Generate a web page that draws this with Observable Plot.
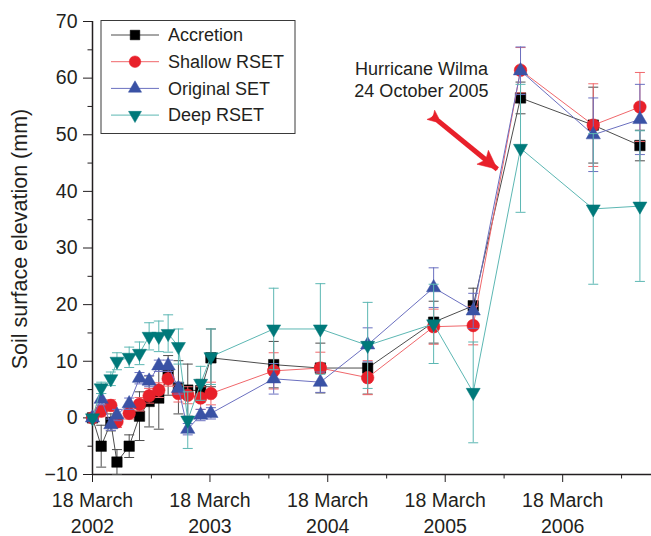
<!DOCTYPE html>
<html><head><meta charset="utf-8">
<script src="https://cdn.jsdelivr.net/npm/d3@7"></script>
<script src="https://cdn.jsdelivr.net/npm/@observablehq/plot@0.6"></script>
<style>
html,body{margin:0;padding:0;background:#fff;}
#chart{position:relative;width:651px;height:536px;}
</style></head><body><div id="chart"></div>
<script>
// ---- data ----
const dates = ["2002-03-18","2002-04-14","2002-05-14","2002-06-02","2002-07-10","2002-08-11","2002-09-10",
  "2002-10-10","2002-11-08","2002-12-10","2003-01-08","2003-02-17","2003-03-21","2003-10-02","2004-02-24",
  "2004-07-20","2005-02-10","2005-06-13","2005-11-07","2006-06-21","2006-11-13"];
const accretion    = [0,-5.0,-0.8,-7.8,-5.0,0.3,2.9,3.5,7.5,5.4,4.9,4.8,10.6,9.4,8.8,8.8,16.9,19.8,56.5,51.7,48.1];
const accretionErr = [0,3.7,1.5,2.2,2.0,4.3,4.5,5.5,3.5,4.7,4.6,2.0,5.1,4.1,4.4,4.6,3.7,3.1,2.8,6.7,2.7];
const shallow      = [0,1.2,2.2,-0.7,0.8,2.4,3.9,4.9,6.9,4.3,4.0,3.5,4.3,8.3,8.8,7.1,16.1,16.3,61.4,51.7,54.9];
const shallowErr   = [0,1.0,1.0,1.0,1.0,1.2,1.3,1.3,1.3,1.5,1.5,2.0,2.0,3.2,2.8,3.0,3.1,3.4,4.0,7.3,6.1];
const original     = [0,3.3,-1.2,0.5,2.5,7.0,6.5,9.2,9.2,5.2,-2.0,0.5,0.8,6.9,6.3,12.9,23.0,18.9,61.3,50.0,52.7];
const originalErr  = [0,1.0,1.0,1.0,1.0,1.0,1.0,1.0,1.0,1.0,1.0,1.0,1.0,2.7,1.8,3.0,3.5,3.1,4.2,6.5,6.2];
const deep         = [0,5.3,6.9,10.0,10.7,11.4,14.4,14.4,14.9,12.6,-0.4,6.1,10.8,15.7,15.7,12.8,16.6,4.5,47.6,36.9,37.4];
const deepErr      = [0,1.0,1.2,1.5,1.8,2.0,2.4,2.7,3.3,3.1,5.0,3.0,4.9,7.2,8.0,7.6,7.0,8.9,11.3,13.3,13.3];

const seriesNames = ["Accretion","Shallow RSET","Original SET","Deep RSET"];
const xDomain = ["2002-03-18","2006-12-19"];
const yDomain = [-10, 70];
const majorYTicks = [-10,0,10,20,30,40,50,60,70];
const minorYTicks = [-5,5,15,25,35,45,55,65];
const majorXTicks = ["2002-03-18","2003-03-18","2004-03-18","2005-03-18","2006-03-18"];
const minorXTicks = ["2002-09-17","2003-09-17","2004-09-17","2005-09-17","2006-09-17"];
const tickDayMonth = "18 March";
const yLabel = "Soil surface elevation (mm)";
const noteLines = ["Hurricane Wilma","24 October 2005"];
const noteDate = "2005-01-03";
const noteValues = [61.6, 57.7];
const arrowFrom = ["2005-02-06", 53.3];
const arrowTo = ["2005-08-27", 43.9];

// ---- styles ----
const parse = d3.utcParse("%Y-%m-%d");
const FONT = "'Liberation Sans', Arial, Helvetica, sans-serif";
const TEXT = "#231f20";
const ARROW = "#e8202a";
const invTriangle = {draw(ctx, size){ const y = Math.sqrt(size/(Math.sqrt(3)*3)); const x = Math.sqrt(3)*y;
  ctx.moveTo(0, 2*y); ctx.lineTo(-x, -y); ctx.lineTo(x, -y); ctx.closePath(); }};
const cap = {draw(ctx){ ctx.moveTo(-5,0); ctx.lineTo(5,0); }};
const arrowHead = {draw(ctx){ ctx.moveTo(0,0); ctx.lineTo(-19,-9); ctx.lineTo(-15,0); ctx.lineTo(-19,9); ctx.closePath(); }};
const arrowTail = {draw(ctx){ ctx.moveTo(6,-2.5); ctx.lineTo(-2,-6); ctx.lineTo(1,0); ctx.lineTo(-2,6); ctx.lineTo(6,2.5); ctx.closePath(); }};
const styles = [
  {marker:"#000000", line:"#4d4d4d", symbol:d3.symbolSquare, r:5.9},
  {marker:"#e8202a", line:"#f0676b", symbol:d3.symbolCircle, r:6.3},
  {marker:"#3a52a5", line:"#6b70c0", symbol:d3.symbolTriangle, r:5.3},
  {marker:"#00797a", line:"#5cb7b3", symbol:invTriangle, r:5.2}
];
const valueSets = [accretion, shallow, original, deep];
const errSets = [accretionErr, shallowErr, originalErr, deepErr];

const seriesMarks = [];
seriesNames.forEach((name, k) => {
  const st = styles[k];
  const rows = dates.map((d, i) => ({date: parse(d), v: valueSets[k][i], e: errSets[k][i], s: name}));
  const withErr = rows.filter(d => d.e > 0);
  seriesMarks.push(
    Plot.line(rows, {x: "date", y: "v", stroke: st.line, strokeWidth: 1}),
    Plot.ruleX(withErr, {x: "date", y1: d => d.v - d.e, y2: d => d.v + d.e, stroke: st.line, strokeWidth: 1}),
    Plot.dot(withErr, {x: "date", y: d => d.v + d.e, symbol: cap, r: 5, fill: "none", stroke: st.line, strokeWidth: 1}),
    Plot.dot(withErr, {x: "date", y: d => d.v - d.e, symbol: cap, r: 5, fill: "none", stroke: st.line, strokeWidth: 1}),
    Plot.dot(rows, {x: "date", y: "v", symbol: st.symbol, r: st.r, fill: st.marker, stroke: st.marker, strokeWidth: 0.5})
  );
});

const arrowRow = [{x1: parse(arrowFrom[0]), y1: arrowFrom[1], x2: parse(arrowTo[0]), y2: arrowTo[1]}];

const chart = Plot.plot({
  width: 651, height: 536,
  marginLeft: 92, marginRight: 0, marginTop: 21, marginBottom: 62,
  style: {fontFamily: FONT, fontSize: "19px", color: TEXT, background: "#fff", overflow: "visible"},
  x: {type: "utc", domain: xDomain.map(parse), label: null},
  y: {domain: yDomain, label: null},
  marks: [
    Plot.axisY(majorYTicks, {tickSize: 9, tickPadding: 6, fontSize: 19.5, stroke: TEXT, tickFormat: d => d < 0 ? "\u2212" + Math.abs(d) : String(d)}),
    Plot.axisY(minorYTicks, {tickSize: 4.5, fontSize: 19, stroke: TEXT, tickFormat: () => ""}),
    Plot.axisX(majorXTicks.map(parse), {tickSize: 8, tickPadding: 11, fontSize: 19.5, stroke: TEXT, tickFormat: () => tickDayMonth}),
    Plot.axisX(majorXTicks.map(parse), {tickSize: 0, tickPadding: 45, fontSize: 19.5, tickFormat: d => String(d.getUTCFullYear())}),
    Plot.axisX(minorXTicks.map(parse), {tickSize: 4.5, stroke: TEXT, tickFormat: () => ""}),
    Plot.ruleX([parse(xDomain[0])], {stroke: TEXT, strokeWidth: 1.5}),
    Plot.ruleY([yDomain[0]], {stroke: TEXT, strokeWidth: 1.5}),
    ...seriesMarks,
    Plot.text(noteLines, {x: () => parse(noteDate), y: (d, i) => noteValues[i], text: d => d, fontSize: 18, fill: TEXT, textAnchor: "middle"}),
    Plot.link(arrowRow, {x1: "x1", y1: "y1", x2: "x2", y2: "y2", stroke: ARROW, strokeWidth: 5, insetEnd: 8}),
    Plot.dot(arrowRow, {x: "x2", y: "y2", symbol: arrowHead, r: 8, fill: ARROW, stroke: ARROW, strokeWidth: 0.5, rotate: 39.4}),
    Plot.dot(arrowRow, {x: "x1", y: "y1", symbol: arrowTail, r: 5, fill: ARROW, stroke: ARROW, strokeWidth: 0.5, rotate: 39.4})
  ]
});
document.getElementById("chart").appendChild(chart);

// y-axis title
const svg = d3.select(chart);
svg.append("text")
  .attr("transform", "translate(20,239) rotate(-90)")
  .attr("text-anchor", "middle").attr("dominant-baseline", "central")
  .attr("font-family", FONT).attr("font-size", "21.5px").attr("fill", TEXT)
  .text(yLabel);

// legend
const lg = svg.append("g").attr("font-family", FONT).attr("font-size", "18px").attr("text-anchor", "start");
lg.append("rect").attr("x", 101).attr("y", 20.5).attr("width", 194).attr("height", 113)
  .attr("fill", "#fff").attr("stroke", "#3a3a3a").attr("stroke-width", 1);
seriesNames.forEach((name, k) => {
  const st = styles[k];
  const cy = 35 + k * 26.7;
  lg.append("line").attr("x1", 111).attr("x2", 159).attr("y1", cy).attr("y2", cy).attr("stroke", st.line).attr("stroke-width", 1);
  lg.append("path").attr("transform", `translate(135,${cy})`)
    .attr("d", d3.symbol(st.symbol, st.r * st.r * Math.PI * 0.85)()).attr("fill", st.marker).attr("stroke", st.marker).attr("stroke-width", 0.5);
  lg.append("text").attr("x", 168).attr("y", cy).attr("dy", "0.35em").attr("text-anchor", "start").attr("fill", TEXT).text(name);
});
</script>
</body></html>
